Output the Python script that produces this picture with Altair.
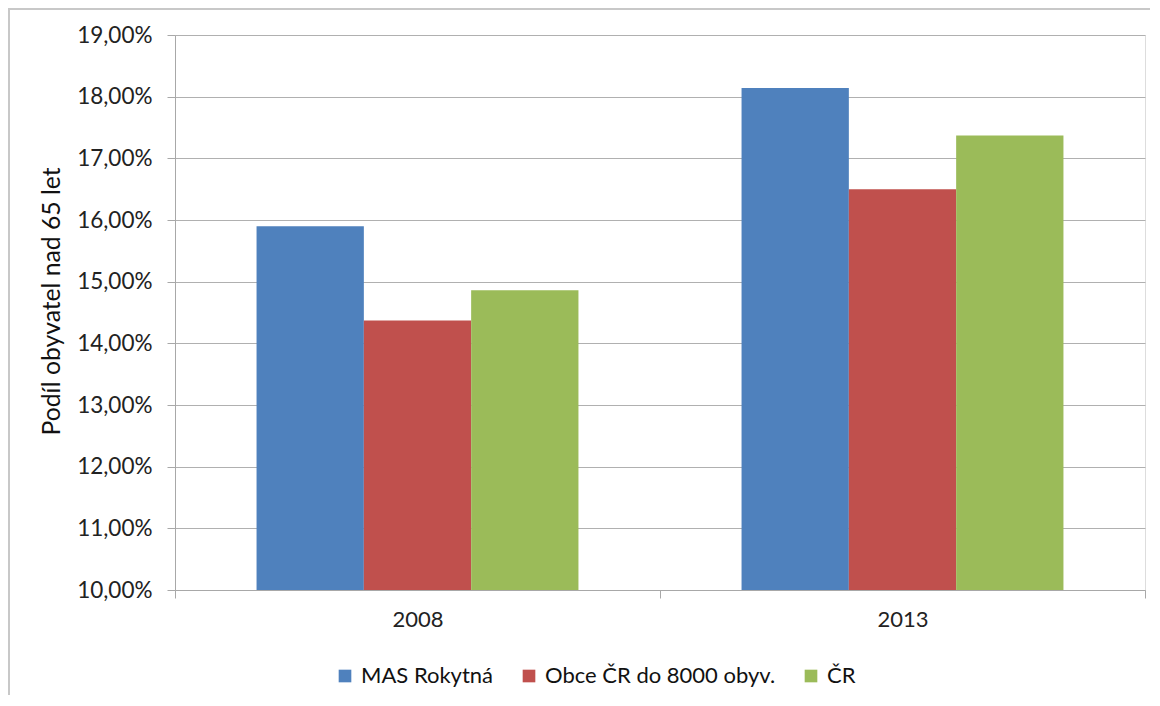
import altair as alt
import pandas as pd

years = ["2008", "2013"]
series = ["MAS Rokytná", "Obce ČR do 8000 obyv.", "ČR"]
values_2008 = [15.90, 14.37, 14.86]
values_2013 = [18.14, 16.50, 17.37]
colors = ["#4F81BD", "#C0504D", "#9BBB59"]
y_ticks = [10, 11, 12, 13, 14, 15, 16, 17, 18, 19]

rows = []
for yr, vals in zip(years, [values_2008, values_2013]):
    for s, v in zip(series, vals):
        rows.append({"rok": yr, "serie": s, "hodnota": v})
df = pd.DataFrame(rows)

FONT = "Lato"
W, H = 970, 555

bars = alt.Chart(df).mark_bar(clip=True).encode(
    x=alt.X("rok:N", sort=years, title=None,
            scale=alt.Scale(paddingInner=0, paddingOuter=0),
            axis=alt.Axis(labelAngle=0, tickBand="extent", tickSize=8,
                          tickColor="#a8a8a8", domainColor="#a8a8a8",
                          labelFontSize=22, labelColor="#222222", labelPadding=11,
                          labelFont=FONT, grid=False)),
    xOffset=alt.XOffset("serie:N", sort=series,
                        scale=alt.Scale(paddingInner=0, paddingOuter=0.76)),
    y=alt.Y("hodnota:Q", title="Podíl obyvatel nad 65 let",
            scale=alt.Scale(domain=[10, 19], nice=False, zero=False),
            axis=alt.Axis(values=y_ticks, tickSize=8, tickColor="#a8a8a8",
                          domainColor="#a8a8a8", gridColor="#b0b0b0",
                          labelExpr="replace(format(datum.value, '.2f'), '.', ',') + '%'",
                          labelFontSize=22.5, labelColor="#222222", labelPadding=15,
                          labelFont=FONT, titleFont=FONT, titleFontSize=24.7,
                          titleFontWeight="normal", titleColor="#111111",
                          titlePadding=12, titleY=266)),
    y2=alt.Y2(datum=10),
    color=alt.Color("serie:N", sort=series,
                    scale=alt.Scale(domain=series, range=colors),
                    legend=alt.Legend(title=None, orient="none", direction="horizontal",
                                      legendX=159, legendY=630,
                                      symbolType="square", symbolSize=160,
                                      symbolStrokeWidth=0, labelFont=FONT,
                                      labelFontSize=22, labelColor="#111111",
                                      labelLimit=0,
                                      columnPadding=24, labelOffset=5)),
)

border = alt.Chart(pd.DataFrame({"a": [0]})).mark_rect(
    fill=None, stroke="#c8c8c8", strokeWidth=2
).encode(
    x=alt.value(-166), x2=alt.value(W + 100),
    y=alt.value(-26), y2=alt.value(H + 300),
)

chart = alt.layer(bars, border).properties(
    width=W, height=H,
    autosize=alt.AutoSizeParams(type="none"),
    padding={"left": 167, "top": 27, "right": 5, "bottom": 105},
).configure_view(stroke=None).configure(background="white")

chart.save("out.html", embed_options={"renderer": "svg", "actions": False})
